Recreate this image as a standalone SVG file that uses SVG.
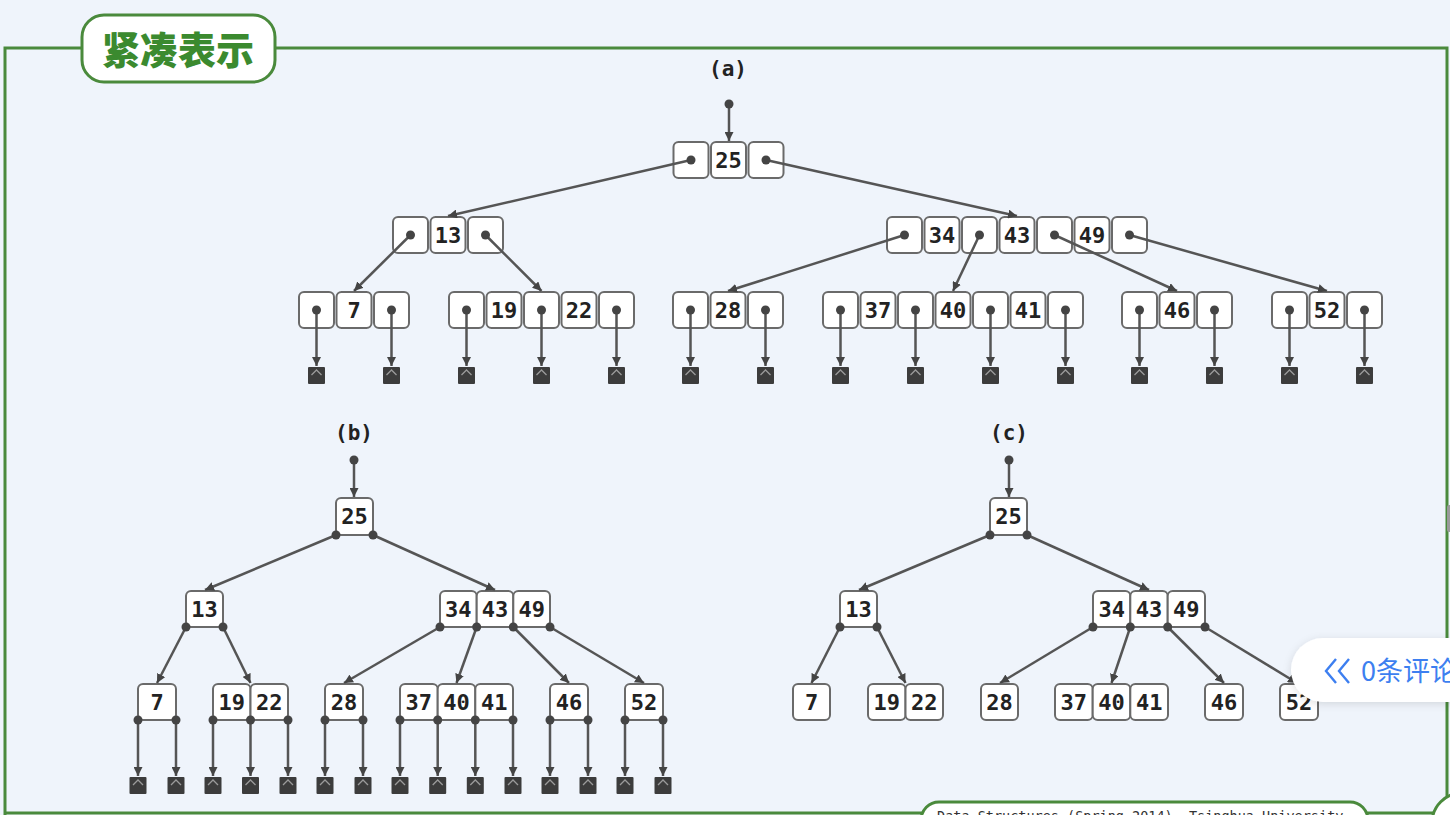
<svg xmlns="http://www.w3.org/2000/svg" xmlns:xlink="http://www.w3.org/1999/xlink" width="1450" height="815" viewBox="0 0 1450 815">
<defs>
<style>
.bg{fill:#eff4fb}
.frame{fill:none;stroke:#4a8a3c;stroke-width:3}
.pill{fill:#fff;stroke:#4a8a3c;stroke-width:3}
.title{font-family:"Noto Sans CJK SC","Noto Sans CJK JP",sans-serif;font-weight:900;font-size:38px;fill:#3b8a2f;text-anchor:middle}
.cell{fill:#fff;stroke:#6a6a6a;stroke-width:2}
.key{font-family:"DejaVu Sans Mono","Liberation Mono",monospace;font-weight:bold;font-size:22px;fill:#222;text-anchor:middle}
.lbl{font-family:"DejaVu Sans Mono","Liberation Mono",monospace;font-weight:bold;font-size:21px;fill:#222;text-anchor:middle}
.edge{stroke:#555;stroke-width:2.5;fill:none;marker-end:url(#arr)}
.dot{fill:#444}
.foot{font-family:"DejaVu Sans Mono","Liberation Mono",monospace;font-size:13.5px;fill:#333}
.pop{font-family:"Noto Sans CJK SC","Noto Sans",sans-serif;font-size:27px;fill:#3d7ff0}
</style>
<marker id="arr" viewBox="0 0 10 10" refX="10" refY="5" markerWidth="9" markerHeight="9" markerUnits="userSpaceOnUse" orient="auto">
<path d="M0,0 L10,5 L0,10 z" fill="#444"/>
</marker>
<g id="null">
<rect x="-8.5" y="0" width="17" height="17" fill="#3c3c3c" rx="1"/>
<polyline points="-5,8 0,3 5,8" fill="none" stroke="#9a9a9a" stroke-width="1.3"/>
</g>
<filter id="sh" x="-20%" y="-40%" width="140%" height="180%">
<feDropShadow dx="0" dy="2" stdDeviation="4" flood-color="#000" flood-opacity="0.12"/>
</filter>
</defs>

<rect class="bg" x="0" y="0" width="1450" height="815"/>

<g id="frame">
<polyline class="frame" points="5,815 5,48 1447,48 1447,813 5,813"/>
<rect x="1447" y="505" width="5" height="27" rx="2" fill="#9a9a9a"/>
</g>

<g id="title">
<rect class="pill" x="82" y="15" width="193" height="67" rx="22"/>
<text class="title" x="178" y="64">紧凑表示</text>
</g>

<g id="labels">
<text class="lbl" x="728" y="76">(a)</text>
<text class="lbl" x="354" y="440">(b)</text>
<text class="lbl" x="1009" y="440">(c)</text>
</g>

<!-- ========== (a) nodes ========== -->
<g id="a-root">
<rect class="cell" x="673.5" y="142" width="35" height="36" rx="5"/>
<rect class="cell" x="711" y="142" width="35" height="36" rx="5"/>
<rect class="cell" x="748.5" y="142" width="35" height="36" rx="5"/>
<text class="key" x="728.5" y="168">25</text>
</g>
<g id="a-n13">
<rect class="cell" x="393" y="217" width="35" height="36" rx="5"/>
<rect class="cell" x="430.5" y="217" width="35" height="36" rx="5"/>
<rect class="cell" x="468" y="217" width="35" height="36" rx="5"/>
<text class="key" x="448" y="243">13</text>
</g>
<g id="a-n34">
<rect class="cell" x="887" y="217" width="35" height="36" rx="5"/>
<rect class="cell" x="924.5" y="217" width="35" height="36" rx="5"/>
<rect class="cell" x="962" y="217" width="35" height="36" rx="5"/>
<rect class="cell" x="999.5" y="217" width="35" height="36" rx="5"/>
<rect class="cell" x="1037" y="217" width="35" height="36" rx="5"/>
<rect class="cell" x="1074.5" y="217" width="35" height="36" rx="5"/>
<rect class="cell" x="1112" y="217" width="35" height="36" rx="5"/>
<text class="key" x="942" y="243">34</text>
<text class="key" x="1017" y="243">43</text>
<text class="key" x="1092" y="243">49</text>
</g>
<g id="a-n7">
<rect class="cell" x="299" y="292" width="35" height="36" rx="5"/>
<rect class="cell" x="336.5" y="292" width="35" height="36" rx="5"/>
<rect class="cell" x="374" y="292" width="35" height="36" rx="5"/>
<text class="key" x="354" y="318">7</text>
</g>
<g id="a-n19">
<rect class="cell" x="449" y="292" width="35" height="36" rx="5"/>
<rect class="cell" x="486.5" y="292" width="35" height="36" rx="5"/>
<rect class="cell" x="524" y="292" width="35" height="36" rx="5"/>
<rect class="cell" x="561.5" y="292" width="35" height="36" rx="5"/>
<rect class="cell" x="599" y="292" width="35" height="36" rx="5"/>
<text class="key" x="504" y="318">19</text>
<text class="key" x="579" y="318">22</text>
</g>
<g id="a-n28">
<rect class="cell" x="673" y="292" width="35" height="36" rx="5"/>
<rect class="cell" x="710.5" y="292" width="35" height="36" rx="5"/>
<rect class="cell" x="748" y="292" width="35" height="36" rx="5"/>
<text class="key" x="728" y="318">28</text>
</g>
<g id="a-n37">
<rect class="cell" x="823" y="292" width="35" height="36" rx="5"/>
<rect class="cell" x="860.5" y="292" width="35" height="36" rx="5"/>
<rect class="cell" x="898" y="292" width="35" height="36" rx="5"/>
<rect class="cell" x="935.5" y="292" width="35" height="36" rx="5"/>
<rect class="cell" x="973" y="292" width="35" height="36" rx="5"/>
<rect class="cell" x="1010.5" y="292" width="35" height="36" rx="5"/>
<rect class="cell" x="1048" y="292" width="35" height="36" rx="5"/>
<text class="key" x="878" y="318">37</text>
<text class="key" x="953" y="318">40</text>
<text class="key" x="1028" y="318">41</text>
</g>
<g id="a-n46">
<rect class="cell" x="1122" y="292" width="35" height="36" rx="5"/>
<rect class="cell" x="1159.5" y="292" width="35" height="36" rx="5"/>
<rect class="cell" x="1197" y="292" width="35" height="36" rx="5"/>
<text class="key" x="1177" y="318">46</text>
</g>
<g id="a-n52">
<rect class="cell" x="1272" y="292" width="35" height="36" rx="5"/>
<rect class="cell" x="1309.5" y="292" width="35" height="36" rx="5"/>
<rect class="cell" x="1347" y="292" width="35" height="36" rx="5"/>
<text class="key" x="1327" y="318">52</text>
</g>
<g id="a-nulls">
<use xlink:href="#null" x="316.5" y="367"/><use xlink:href="#null" x="391.5" y="367"/>
<use xlink:href="#null" x="466.5" y="367"/><use xlink:href="#null" x="541.5" y="367"/><use xlink:href="#null" x="616.5" y="367"/>
<use xlink:href="#null" x="690.5" y="367"/><use xlink:href="#null" x="765.5" y="367"/>
<use xlink:href="#null" x="840.5" y="367"/><use xlink:href="#null" x="915.5" y="367"/><use xlink:href="#null" x="990.5" y="367"/><use xlink:href="#null" x="1065.5" y="367"/>
<use xlink:href="#null" x="1139.5" y="367"/><use xlink:href="#null" x="1214.5" y="367"/>
<use xlink:href="#null" x="1289.5" y="367"/><use xlink:href="#null" x="1364.5" y="367"/>
</g>

<!-- ========== (b) nodes ========== -->
<g id="b-root">
<rect class="cell" x="336" y="498" width="37" height="37" rx="5"/>
<text class="key" x="354.5" y="524">25</text>
</g>
<g id="b-n13">
<rect class="cell" x="186" y="591" width="37" height="36" rx="5"/>
<text class="key" x="204.5" y="617">13</text>
</g>
<g id="b-n34">
<rect class="cell" x="440" y="591" width="36.7" height="36" rx="5"/>
<rect class="cell" x="476.7" y="591" width="36.6" height="36" rx="5"/>
<rect class="cell" x="513.3" y="591" width="36.7" height="36" rx="5"/>
<text class="key" x="458.3" y="617">34</text>
<text class="key" x="495" y="617">43</text>
<text class="key" x="531.7" y="617">49</text>
</g>
<g id="b-n7">
<rect class="cell" x="138" y="684" width="38" height="36" rx="5"/>
<text class="key" x="157" y="710">7</text>
</g>
<g id="b-n19">
<rect class="cell" x="213" y="684" width="37.5" height="36" rx="5"/>
<rect class="cell" x="250.5" y="684" width="37.5" height="36" rx="5"/>
<text class="key" x="231.75" y="710">19</text>
<text class="key" x="269.25" y="710">22</text>
</g>
<g id="b-n28">
<rect class="cell" x="325" y="684" width="38" height="36" rx="5"/>
<text class="key" x="344" y="710">28</text>
</g>
<g id="b-n37">
<rect class="cell" x="400" y="684" width="37.7" height="36" rx="5"/>
<rect class="cell" x="437.7" y="684" width="37.6" height="36" rx="5"/>
<rect class="cell" x="475.3" y="684" width="37.7" height="36" rx="5"/>
<text class="key" x="418.8" y="710">37</text>
<text class="key" x="456.5" y="710">40</text>
<text class="key" x="494.2" y="710">41</text>
</g>
<g id="b-n46">
<rect class="cell" x="550" y="684" width="38" height="36" rx="5"/>
<text class="key" x="569" y="710">46</text>
</g>
<g id="b-n52">
<rect class="cell" x="625" y="684" width="38" height="36" rx="5"/>
<text class="key" x="644" y="710">52</text>
</g>
<g id="b-nulls">
<use xlink:href="#null" x="138" y="777"/><use xlink:href="#null" x="176" y="777"/>
<use xlink:href="#null" x="213" y="777"/><use xlink:href="#null" x="250.5" y="777"/><use xlink:href="#null" x="288" y="777"/>
<use xlink:href="#null" x="325" y="777"/><use xlink:href="#null" x="363" y="777"/>
<use xlink:href="#null" x="400" y="777"/><use xlink:href="#null" x="437.7" y="777"/><use xlink:href="#null" x="475.3" y="777"/><use xlink:href="#null" x="513" y="777"/>
<use xlink:href="#null" x="550" y="777"/><use xlink:href="#null" x="588" y="777"/>
<use xlink:href="#null" x="625" y="777"/><use xlink:href="#null" x="663" y="777"/>
</g>

<!-- ========== (c) nodes ========== -->
<g id="c-root">
<rect class="cell" x="990" y="498" width="37" height="37" rx="5"/>
<text class="key" x="1008.5" y="524">25</text>
</g>
<g id="c-n13">
<rect class="cell" x="840" y="591" width="37" height="36" rx="5"/>
<text class="key" x="858.5" y="617">13</text>
</g>
<g id="c-n34">
<rect class="cell" x="1093" y="591" width="37.3" height="36" rx="5"/>
<rect class="cell" x="1130.3" y="591" width="37.4" height="36" rx="5"/>
<rect class="cell" x="1167.7" y="591" width="37.3" height="36" rx="5"/>
<text class="key" x="1111.7" y="617">34</text>
<text class="key" x="1149" y="617">43</text>
<text class="key" x="1186.3" y="617">49</text>
</g>
<g id="c-n7">
<rect class="cell" x="793" y="684" width="37" height="36" rx="5"/>
<text class="key" x="811.5" y="710">7</text>
</g>
<g id="c-n19">
<rect class="cell" x="868" y="684" width="37.5" height="36" rx="5"/>
<rect class="cell" x="905.5" y="684" width="37.5" height="36" rx="5"/>
<text class="key" x="886.75" y="710">19</text>
<text class="key" x="924.25" y="710">22</text>
</g>
<g id="c-n28">
<rect class="cell" x="981" y="684" width="37" height="36" rx="5"/>
<text class="key" x="999.5" y="710">28</text>
</g>
<g id="c-n37">
<rect class="cell" x="1055" y="684" width="37.7" height="36" rx="5"/>
<rect class="cell" x="1092.7" y="684" width="37.6" height="36" rx="5"/>
<rect class="cell" x="1130.3" y="684" width="37.7" height="36" rx="5"/>
<text class="key" x="1073.8" y="710">37</text>
<text class="key" x="1111.5" y="710">40</text>
<text class="key" x="1149.2" y="710">41</text>
</g>
<g id="c-n46">
<rect class="cell" x="1205" y="684" width="38" height="36" rx="5"/>
<text class="key" x="1224" y="710">46</text>
</g>
<g id="c-n52">
<rect class="cell" x="1280" y="684" width="38" height="36" rx="5"/>
<text class="key" x="1299" y="710">52</text>
</g>

<!-- ========== connectors ========== -->
<g id="connectors">
<!-- (a) -->
<line class="edge" x1="729" y1="104" x2="729" y2="141"/>
<line class="edge" x1="691" y1="160" x2="448" y2="216"/>
<line class="edge" x1="766" y1="160" x2="1017" y2="216"/>
<line class="edge" x1="410.5" y1="235" x2="354" y2="291"/>
<line class="edge" x1="485.5" y1="235" x2="541.5" y2="291"/>
<line class="edge" x1="904.5" y1="235" x2="728" y2="291"/>
<line class="edge" x1="979.5" y1="235" x2="953" y2="291"/>
<line class="edge" x1="1054.5" y1="235" x2="1177" y2="291"/>
<line class="edge" x1="1129.5" y1="235" x2="1327" y2="291"/>
<line class="edge" x1="316.5" y1="310" x2="316.5" y2="366"/>
<line class="edge" x1="391.5" y1="310" x2="391.5" y2="366"/>
<line class="edge" x1="466.5" y1="310" x2="466.5" y2="366"/>
<line class="edge" x1="541.5" y1="310" x2="541.5" y2="366"/>
<line class="edge" x1="616.5" y1="310" x2="616.5" y2="366"/>
<line class="edge" x1="690.5" y1="310" x2="690.5" y2="366"/>
<line class="edge" x1="765.5" y1="310" x2="765.5" y2="366"/>
<line class="edge" x1="840.5" y1="310" x2="840.5" y2="366"/>
<line class="edge" x1="915.5" y1="310" x2="915.5" y2="366"/>
<line class="edge" x1="990.5" y1="310" x2="990.5" y2="366"/>
<line class="edge" x1="1065.5" y1="310" x2="1065.5" y2="366"/>
<line class="edge" x1="1139.5" y1="310" x2="1139.5" y2="366"/>
<line class="edge" x1="1214.5" y1="310" x2="1214.5" y2="366"/>
<line class="edge" x1="1289.5" y1="310" x2="1289.5" y2="366"/>
<line class="edge" x1="1364.5" y1="310" x2="1364.5" y2="366"/>
<!-- (b) -->
<line class="edge" x1="354" y1="460" x2="354" y2="497"/>
<line class="edge" x1="336" y1="535" x2="205" y2="590"/>
<line class="edge" x1="373" y1="535" x2="495" y2="590"/>
<line class="edge" x1="186" y1="627" x2="157" y2="683"/>
<line class="edge" x1="223" y1="627" x2="250.5" y2="683"/>
<line class="edge" x1="440" y1="627" x2="344" y2="683"/>
<line class="edge" x1="476.7" y1="627" x2="456.5" y2="683"/>
<line class="edge" x1="513.3" y1="627" x2="569" y2="683"/>
<line class="edge" x1="550" y1="627" x2="644" y2="683"/>
<line class="edge" x1="138" y1="720" x2="138" y2="776"/>
<line class="edge" x1="176" y1="720" x2="176" y2="776"/>
<line class="edge" x1="213" y1="720" x2="213" y2="776"/>
<line class="edge" x1="250.5" y1="720" x2="250.5" y2="776"/>
<line class="edge" x1="288" y1="720" x2="288" y2="776"/>
<line class="edge" x1="325" y1="720" x2="325" y2="776"/>
<line class="edge" x1="363" y1="720" x2="363" y2="776"/>
<line class="edge" x1="400" y1="720" x2="400" y2="776"/>
<line class="edge" x1="437.7" y1="720" x2="437.7" y2="776"/>
<line class="edge" x1="475.3" y1="720" x2="475.3" y2="776"/>
<line class="edge" x1="513" y1="720" x2="513" y2="776"/>
<line class="edge" x1="550" y1="720" x2="550" y2="776"/>
<line class="edge" x1="588" y1="720" x2="588" y2="776"/>
<line class="edge" x1="625" y1="720" x2="625" y2="776"/>
<line class="edge" x1="663" y1="720" x2="663" y2="776"/>
<!-- (c) -->
<line class="edge" x1="1009" y1="460" x2="1009" y2="497"/>
<line class="edge" x1="990" y1="535" x2="859" y2="590"/>
<line class="edge" x1="1027" y1="535" x2="1149" y2="590"/>
<line class="edge" x1="840" y1="627" x2="811.5" y2="683"/>
<line class="edge" x1="877" y1="627" x2="905.5" y2="683"/>
<line class="edge" x1="1093" y1="627" x2="1000" y2="683"/>
<line class="edge" x1="1130.3" y1="627" x2="1111.5" y2="683"/>
<line class="edge" x1="1167.7" y1="627" x2="1224" y2="683"/>
<line class="edge" x1="1205" y1="627" x2="1297" y2="683"/>

<!-- pointer dots -->
<g class="dot">
<circle cx="729" cy="104" r="4.5"/>
<circle cx="691" cy="160" r="4.5"/><circle cx="766" cy="160" r="4.5"/>
<circle cx="410.5" cy="235" r="4.5"/><circle cx="485.5" cy="235" r="4.5"/>
<circle cx="904.5" cy="235" r="4.5"/><circle cx="979.5" cy="235" r="4.5"/><circle cx="1054.5" cy="235" r="4.5"/><circle cx="1129.5" cy="235" r="4.5"/>
<circle cx="316.5" cy="310" r="4.5"/><circle cx="391.5" cy="310" r="4.5"/>
<circle cx="466.5" cy="310" r="4.5"/><circle cx="541.5" cy="310" r="4.5"/><circle cx="616.5" cy="310" r="4.5"/>
<circle cx="690.5" cy="310" r="4.5"/><circle cx="765.5" cy="310" r="4.5"/>
<circle cx="840.5" cy="310" r="4.5"/><circle cx="915.5" cy="310" r="4.5"/><circle cx="990.5" cy="310" r="4.5"/><circle cx="1065.5" cy="310" r="4.5"/>
<circle cx="1139.5" cy="310" r="4.5"/><circle cx="1214.5" cy="310" r="4.5"/>
<circle cx="1289.5" cy="310" r="4.5"/><circle cx="1364.5" cy="310" r="4.5"/>

<circle cx="354" cy="460" r="4.5"/>
<circle cx="336" cy="535" r="4.5"/><circle cx="373" cy="535" r="4.5"/>
<circle cx="186" cy="627" r="4.5"/><circle cx="223" cy="627" r="4.5"/>
<circle cx="440" cy="627" r="4.5"/><circle cx="476.7" cy="627" r="4.5"/><circle cx="513.3" cy="627" r="4.5"/><circle cx="550" cy="627" r="4.5"/>
<circle cx="138" cy="720" r="4.5"/><circle cx="176" cy="720" r="4.5"/>
<circle cx="213" cy="720" r="4.5"/><circle cx="250.5" cy="720" r="4.5"/><circle cx="288" cy="720" r="4.5"/>
<circle cx="325" cy="720" r="4.5"/><circle cx="363" cy="720" r="4.5"/>
<circle cx="400" cy="720" r="4.5"/><circle cx="437.7" cy="720" r="4.5"/><circle cx="475.3" cy="720" r="4.5"/><circle cx="513" cy="720" r="4.5"/>
<circle cx="550" cy="720" r="4.5"/><circle cx="588" cy="720" r="4.5"/>
<circle cx="625" cy="720" r="4.5"/><circle cx="663" cy="720" r="4.5"/>

<circle cx="1009" cy="460" r="4.5"/>
<circle cx="990" cy="535" r="4.5"/><circle cx="1027" cy="535" r="4.5"/>
<circle cx="840" cy="627" r="4.5"/><circle cx="877" cy="627" r="4.5"/>
<circle cx="1093" cy="627" r="4.5"/><circle cx="1130.3" cy="627" r="4.5"/><circle cx="1167.7" cy="627" r="4.5"/><circle cx="1205" cy="627" r="4.5"/>
</g>
</g>

<g id="footer">
<rect class="pill" x="921" y="802" width="447" height="40" rx="18"/>
<text class="foot" x="937" y="821">Data Structures (Spring 2014), Tsinghua University</text>
<circle class="pill" cx="1462" cy="823" r="30"/>
</g>

<g id="comment-popup">
<rect x="1291" y="638" width="200" height="64" rx="32" fill="#fff" filter="url(#sh)"/>
<polyline points="1336,659 1326,671 1336,683" fill="none" stroke="#3d7ff0" stroke-width="2.4"/>
<polyline points="1349,659 1339,671 1349,683" fill="none" stroke="#3d7ff0" stroke-width="2.4"/>
<text class="pop" x="1361" y="681">0条评论</text>
</g>
</svg>
